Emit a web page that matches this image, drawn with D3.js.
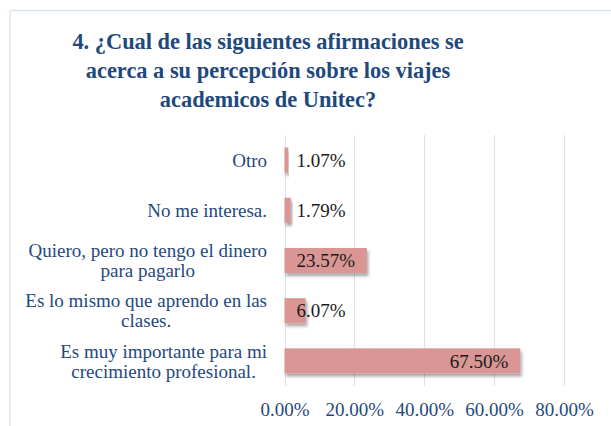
<!DOCTYPE html>
<html>
<head>
<meta charset="utf-8">
<script src="https://cdn.jsdelivr.net/npm/d3@7"></script>
<style>
  body { margin: 0; background: #fff; }
  svg { display: block; }
</style>
</head>
<body>
<div id="chart"></div>
<script>
// data
const categories = [
  ["Otro"],
  ["No me interesa."],
  ["Quiero, pero no tengo el dinero", "para pagarlo"],
  ["Es lo mismo que aprendo en las", "clases."],
  ["Es muy importante para mi", "crecimiento profesional."]
];
const values = [1.07, 1.79, 23.57, 6.07, 67.50];
const xTicks = [0, 20, 40, 60, 80];
const titleLines = [
  "4. ¿Cual de las siguientes afirmaciones se",
  "acerca a su percepción sobre los viajes",
  "academicos de Unitec?"
];

const width = 611, height = 426;
const margin = {top: 135, right: 47, bottom: 40, left: 284.5};
const fontSize = 19;
const serif = "'Liberation Serif', 'Times New Roman', serif";

const svg = d3.select("#chart").append("svg")
    .attr("width", width)
    .attr("height", height);

const defs = svg.append("defs");
const shadow = defs.append("filter").attr("id", "shadow")
    .attr("x", "-10%").attr("y", "-20%").attr("width", "130%").attr("height", "160%");
shadow.append("feDropShadow")
    .attr("dx", 1.5).attr("dy", 3).attr("stdDeviation", 1.8)
    .attr("flood-color", "#000").attr("flood-opacity", 0.35);

// chart frame
svg.append("rect")
    .attr("x", 10).attr("y", 10.5)
    .attr("width", width + 20).attr("height", height + 20)
    .attr("fill", "#fff")
    .attr("stroke", "#dce6f2")
    .attr("stroke-width", 1.5);

// title
svg.append("g")
    .attr("font-family", serif)
    .attr("font-weight", "bold")
    .attr("font-size", 22.4)
    .attr("fill", "#1f497d")
    .attr("text-anchor", "middle")
    .selectAll("text")
    .data(titleLines)
    .join("text")
    .attr("x", 268)
    .attr("y", (d, i) => 49 + i * 29)
    .text(d => d);

const x = d3.scaleLinear()
    .domain([0, 80])
    .range([margin.left, 564]);

const y = d3.scaleBand()
    .domain(d3.range(values.length))
    .range([margin.top, 386])
    .paddingInner(0.5)
    .paddingOuter(0.25);

// gridlines
svg.append("g")
    .attr("stroke", "#d6e1f1")
    .attr("stroke-width", 1)
    .selectAll("line")
    .data(xTicks)
    .join("line")
    .attr("x1", d => Math.round(x(d)) + 0.5)
    .attr("x2", d => Math.round(x(d)) + 0.5)
    .attr("y1", margin.top)
    .attr("y2", 386);

// x axis labels
const xAxis = d3.axisBottom(x)
    .tickValues(xTicks)
    .tickSize(0)
    .tickPadding(0)
    .tickFormat(d => d3.format(".2f")(d) + "%");

svg.append("g")
    .attr("transform", "translate(0,416)")
    .call(xAxis)
    .call(g => g.select(".domain").remove())
    .call(g => g.selectAll("text")
        .attr("y", 0)
        .attr("dy", 0)
        .attr("font-family", serif)
        .attr("font-size", fontSize)
        .attr("fill", "#1f497d"));

// bars
svg.append("g")
    .selectAll("rect")
    .data(values)
    .join("rect")
    .attr("x", x(0))
    .attr("y", (d, i) => y(i))
    .attr("width", d => x(d) - x(0))
    .attr("height", y.bandwidth())
    .attr("fill", "#d99694")
    .attr("filter", "url(#shadow)");

// category labels
const cat = svg.append("g")
    .attr("font-family", serif)
    .attr("font-size", fontSize)
    .attr("fill", "#1f497d")
    .selectAll("text")
    .data(categories)
    .join("text")
    .attr("text-anchor", "middle")
    .attr("y", (d, i) => y(i) + y.bandwidth() / 2 + fontSize * 0.35);

cat.each(function(lines) {
    const t = d3.select(this);
    const n = lines.length;
    lines.forEach((line, j) => {
        t.append("tspan")
            .attr("x", 0)
            .attr("dy", j === 0 ? -(n - 1) * 10 : 20)
            .text(line);
    });
});
// right-align the block, centre the lines within it
cat.each(function() {
    const t = d3.select(this);
    const w = this.getBBox().width;
    t.selectAll("tspan").attr("x", 267 - w / 2);
});

// value labels
svg.append("g")
    .attr("font-family", serif)
    .attr("font-size", fontSize)
    .attr("fill", "#1a1a1a")
    .selectAll("text")
    .data(values)
    .join("text")
    .attr("x", d => d > 50 ? x(d) - 12 : x(0) + 12)
    .attr("text-anchor", d => d > 50 ? "end" : "start")
    .attr("y", (d, i) => y(i) + y.bandwidth() / 2)
    .attr("dy", "0.35em")
    .text(d => d3.format(".2f")(d) + "%");
</script>
</body>
</html>
